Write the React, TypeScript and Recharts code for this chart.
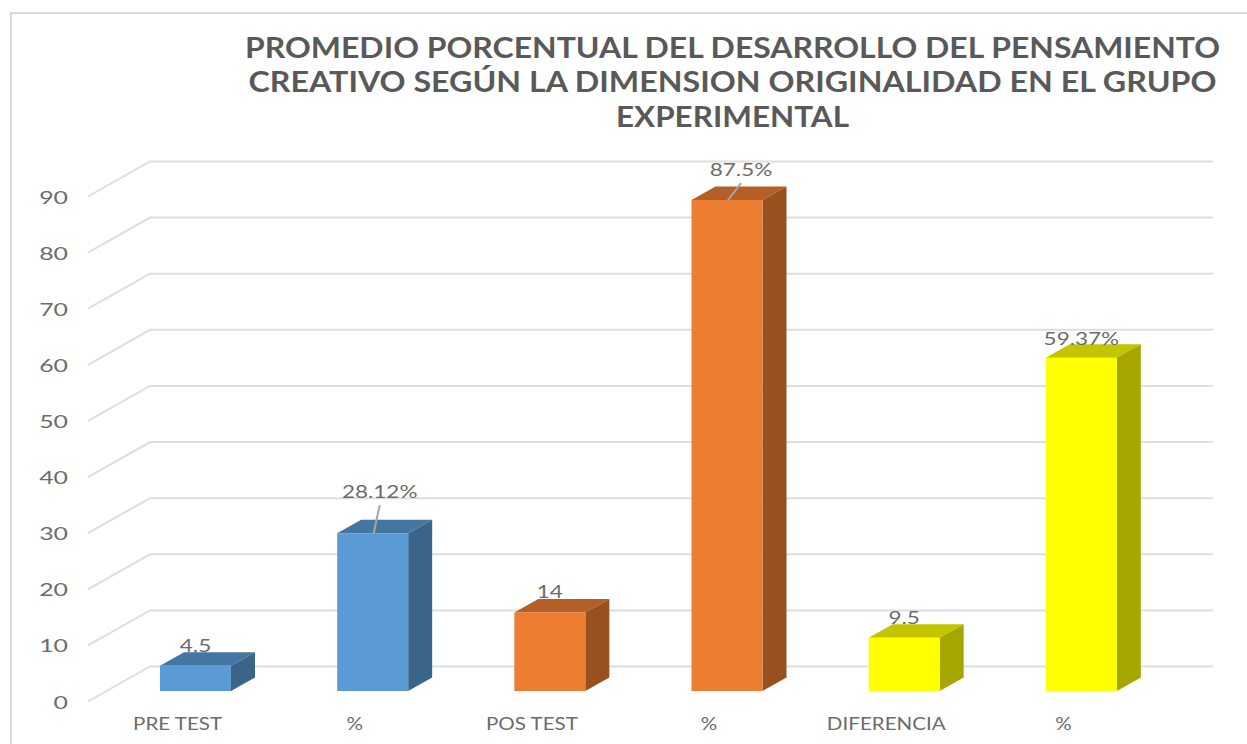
import React from "react";
import { BarChart, Bar, XAxis, YAxis, CartesianGrid, Cell, LabelList } from "recharts";

const categories = ["PRE TEST", "%", "POS TEST", "%", "DIFERENCIA", "%"];
const values = [4.5, 28.12, 14, 87.5, 9.5, 59.37];
const valueLabels = ["4.5", "28.12%", "14", "87.5%", "9.5", "59.37%"];
const barColors = ["#5B9BD5", "#5B9BD5", "#ED7D31", "#ED7D31", "#FFFF00", "#FFFF00"];
const topColors = ["#4575A1", "#4575A1", "#B45F25", "#B45F25", "#C4C400", "#C4C400"];
const sideColors = ["#3A6589", "#3A6589", "#9A4F1E", "#9A4F1E", "#A6A600", "#A6A600"];
const yTicks = [0, 10, 20, 30, 40, 50, 60, 70, 80, 90];
const titleLines = [
  "PROMEDIO PORCENTUAL DEL DESARROLLO DEL PENSAMIENTO",
  "CREATIVO SEGÚN LA DIMENSION ORIGINALIDAD EN EL GRUPO",
  "EXPERIMENTAL",
];
const titleWidths = [975, 968, 233];
const titleY = [58, 92, 127];

const chartData = categories.map((category, i) => ({ category, value: values[i] }));

const FONT = "Lato, 'Open Sans', sans-serif";
const TEXT = "#6b6b6b";
const GRID = "#dedede";
const DEPTH_X = 24;
const DEPTH_Y = 13.5;
// label placement relative to the bar's top centre: [dx, dy of baseline, has leader line]
const labelOffsets: [number, number, boolean][] = [
  [0, -14, false],
  [7, -35, true],
  [0, -14, false],
  [14, -24, true],
  [0, -14, false],
  [0, -13, false],
];

const Box3D = (props: any) => {
  const { x, y, width, height, index } = props;
  const dx = DEPTH_X;
  const dy = DEPTH_Y;
  return (
    <g>
      <polygon
        points={`${x},${y} ${x + dx},${y - dy} ${x + width + dx},${y - dy} ${x + width},${y}`}
        fill={topColors[index]}
      />
      <polygon
        points={`${x + width},${y} ${x + width + dx},${y - dy} ${x + width + dx},${y + height - dy} ${x + width},${y + height}`}
        fill={sideColors[index]}
      />
      <rect x={x} y={y} width={width} height={height} fill={barColors[index]} />
    </g>
  );
};

const StretchText = ({ x, y, sx, size, anchor, children, weight, color }: any) => (
  <text
    transform={`translate(${x},${y}) scale(${sx},1)`}
    fontFamily={FONT}
    fontSize={size}
    fontWeight={weight || 400}
    fill={color || TEXT}
    textAnchor={anchor || "middle"}
  >
    {children}
  </text>
);

const YTick = ({ y, payload }: any) => (
  <StretchText x={68} y={y + 17.5} sx={1.38} size={18} anchor="end">
    {payload.value}
  </StretchText>
);

const XTick = ({ x, payload }: any) => (
  <StretchText x={x - 18} y={729.5} sx={1.21} size={17}>
    {payload.value}
  </StretchText>
);

const wallLine = (p: any) => {
  const y = p.y1;
  return (
    <path
      key={`wall-${y}`}
      d={`M88,${y + 10.5} L150,${y - 24.5} L1213,${y - 24.5}`}
      fill="none"
      stroke={GRID}
      strokeWidth={2}
    />
  );
};

const BarLabel = (props: any) => {
  const { x, y, width, index } = props;
  const cx = x + width / 2;
  const [dx, dy, leader] = labelOffsets[index];
  return (
    <g>
      {leader && (
        <line x1={cx + 1} y1={y} x2={cx + dx} y2={y + dy + 7} stroke="#a6a6a6" strokeWidth={2} />
      )}
      <StretchText x={cx + dx} y={y + dy} sx={1.25} size={18}>
        {valueLabels[index]}
      </StretchText>
    </g>
  );
};

export default function App() {
  return (
    <div style={{ position: "absolute", left: 0, top: 0, width: 1247, height: 744, background: "#fff", overflow: "hidden" }}>
      <div
        style={{
          position: "absolute",
          left: 10,
          top: 12,
          width: 1260,
          height: 760,
          border: "2px solid #d9d9d9",
          boxSizing: "border-box",
        }}
      />
      <div style={{ position: "absolute", left: 0, top: 0 }}>
        <BarChart
          width={1247}
          height={744}
          data={chartData}
          margin={{ left: 106, right: 77, top: 186, bottom: 52 }}
          barCategoryGap={0}
          style={{ overflow: "visible" }}
        >
          <CartesianGrid vertical={false} horizontal={wallLine} />
          <XAxis dataKey="category" height={1} axisLine={false} tickLine={false} interval={0} tick={<XTick />} />
          <YAxis width={1} domain={[0, 90]} ticks={yTicks} axisLine={false} tickLine={false} interval={0} tick={<YTick />} />
          <Bar dataKey="value" barSize={71} isAnimationActive={false} shape={<Box3D />}>
            {chartData.map((_, i) => (
              <Cell key={i} fill={barColors[i]} />
            ))}
            <LabelList dataKey="value" content={<BarLabel />} />
          </Bar>
          {titleLines.map((line, i) => (
            <text
              key={i}
              x={732.5}
              y={titleY[i]}
              textAnchor="middle"
              textLength={titleWidths[i]}
              lengthAdjust="spacingAndGlyphs"
              fontFamily={FONT}
              fontSize={28}
              fontWeight={700}
              fill="#595959"
            >
              {line}
            </text>
          ))}
        </BarChart>
      </div>
    </div>
  );
}
